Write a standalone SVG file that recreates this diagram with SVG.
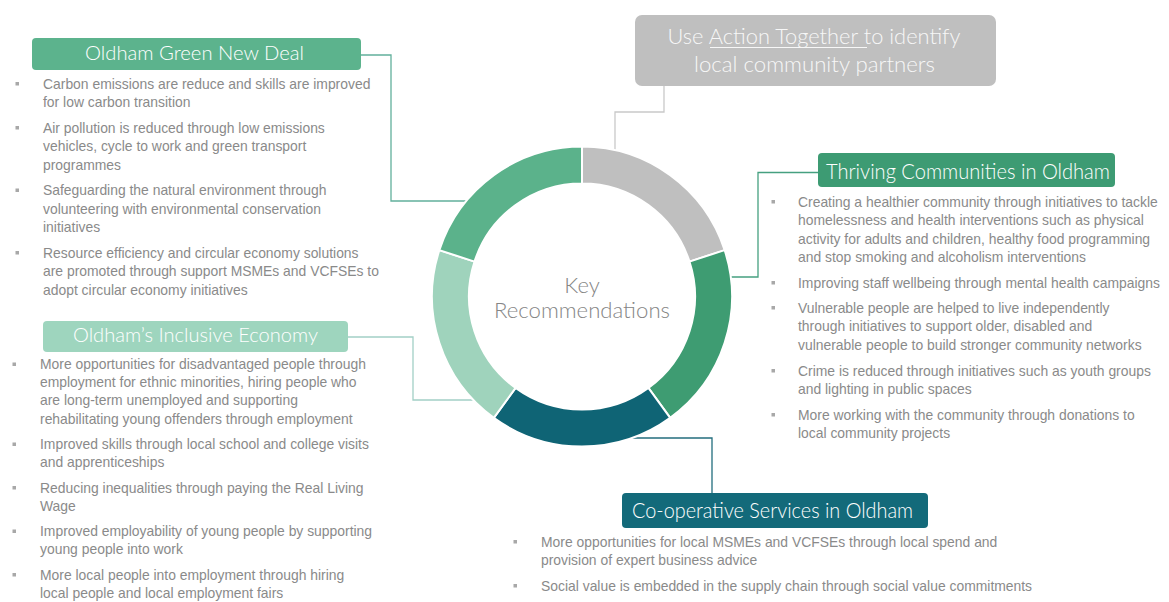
<svg xmlns="http://www.w3.org/2000/svg" width="1169" height="602" viewBox="0 0 1169 602">
<style>
.title{font-family:Lato,"Liberation Sans",sans-serif;font-weight:300;font-size:20.5px;fill:#ffffff;text-anchor:middle}
.body{font-family:"Liberation Sans",Arial,sans-serif;font-size:13.9px;fill:#8a8a8a}
.bul{fill:#a8a8a8}
.conn{fill:none;stroke-width:1.3}
.seg{stroke:#ffffff;stroke-width:2}
.center{font-family:Lato,"Liberation Sans",sans-serif;font-weight:300;font-size:22px;fill:#858585;text-anchor:middle}
</style>
<rect width="1169" height="602" fill="#ffffff"/>

<g id="connectors">
  <polyline class="conn" stroke="#62b09c" points="361,55 391,55 391,201 466.3,201"/>
  <polyline class="conn" stroke="#a2d0c6" points="348,337 413,337 413,400 473.4,400"/>
  <polyline class="conn" stroke="#c9c9c9" points="664,86 664,112 615,112 615,150.2"/>
  <polyline class="conn" stroke="#45a080" points="818,172.5 758,172.5 758,277 730.7,277"/>
  <polyline class="conn" stroke="#236e7e" points="631.8,438 712,438 712,493"/>
</g>

<g id="ring">
  <path class="seg" fill="#bfbfbf" d="M582,146.5 A150,150 0 0 1 724.66,250.15 L689.47,261.58 A113,113 0 0 0 582,183.5 Z"/>
  <path class="seg" fill="#3e9c72" d="M724.66,250.15 A150,150 0 0 1 670.17,417.85 L648.42,387.92 A113,113 0 0 0 689.47,261.58 Z"/>
  <path class="seg" fill="#0f6475" d="M670.17,417.85 A150,150 0 0 1 493.83,417.85 L515.58,387.92 A113,113 0 0 0 648.42,387.92 Z"/>
  <path class="seg" fill="#9fd3bc" d="M493.83,417.85 A150,150 0 0 1 439.34,250.15 L474.53,261.58 A113,113 0 0 0 515.58,387.92 Z"/>
  <path class="seg" fill="#5bb28b" d="M439.34,250.15 A150,150 0 0 1 582,146.5 L582,183.5 A113,113 0 0 0 474.53,261.58 Z"/>
  <text class="center" x="582" y="293">Key</text>
  <text class="center" x="582" y="318" textLength="176" lengthAdjust="spacingAndGlyphs">Recommendations</text>
</g>

<g id="node-action-together">
  <rect x="635" y="15" width="361" height="71" rx="7" fill="#bfbfbf"/>
  <text class="title" x="814" y="44" style="fill:#f7f7f7;font-size:22px" textLength="293" lengthAdjust="spacingAndGlyphs">Use Action Together to identify</text>
  <line x1="710" y1="47.5" x2="867" y2="47.5" stroke="#f7f7f7" stroke-width="1"/>
  <text class="title" x="814.5" y="72" style="fill:#f7f7f7;font-size:22px" textLength="241" lengthAdjust="spacingAndGlyphs">local community partners</text>
</g>

<g id="node-green-new-deal">
  <rect x="32" y="38" width="329" height="32" rx="4" fill="#5cb38d"/>
  <text class="title" x="194.5" y="60" textLength="219" lengthAdjust="spacingAndGlyphs">Oldham Green New Deal</text>
  <rect class="bul" x="15.5" y="82" width="3.5" height="3.5"/>
  <rect class="bul" x="15.5" y="126" width="3.5" height="3.5"/>
  <rect class="bul" x="15.5" y="188.5" width="3.5" height="3.5"/>
  <rect class="bul" x="15.5" y="251" width="3.5" height="3.5"/>
  <text class="body">
    <tspan x="43" y="89">Carbon emissions are reduce and skills are improved</tspan>
    <tspan x="43" y="107.4">for low carbon transition</tspan>
    <tspan x="43" y="133">Air pollution is reduced through low emissions</tspan>
    <tspan x="43" y="151.4">vehicles, cycle to work and green transport</tspan>
    <tspan x="43" y="169.8">programmes</tspan>
    <tspan x="43" y="195.4">Safeguarding the natural environment through</tspan>
    <tspan x="43" y="213.8">volunteering with environmental conservation</tspan>
    <tspan x="43" y="232.2">initiatives</tspan>
    <tspan x="43" y="258">Resource efficiency and circular economy solutions</tspan>
    <tspan x="43" y="276.4">are promoted through support MSMEs and VCFSEs to</tspan>
    <tspan x="43" y="294.8">adopt circular economy initiatives</tspan>
  </text>
</g>

<g id="node-inclusive-economy">
  <rect x="43" y="321" width="305" height="31" rx="4" fill="#9ed5be"/>
  <text class="title" x="195.5" y="342" textLength="245" lengthAdjust="spacingAndGlyphs">Oldham’s Inclusive Economy</text>
  <rect class="bul" x="12.5" y="362.5" width="3.5" height="3.5"/>
  <rect class="bul" x="12.5" y="442.5" width="3.5" height="3.5"/>
  <rect class="bul" x="12.5" y="486" width="3.5" height="3.5"/>
  <rect class="bul" x="12.5" y="529.5" width="3.5" height="3.5"/>
  <rect class="bul" x="12.5" y="573" width="3.5" height="3.5"/>
  <text class="body">
    <tspan x="40" y="369">More opportunities for disadvantaged people through</tspan>
    <tspan x="40" y="387.2">employment for ethnic minorities, hiring people who</tspan>
    <tspan x="40" y="405.4">are long-term unemployed and supporting</tspan>
    <tspan x="40" y="423.6">rehabilitating young offenders through employment</tspan>
    <tspan x="40" y="449">Improved skills through local school and college visits</tspan>
    <tspan x="40" y="467.2">and apprenticeships</tspan>
    <tspan x="40" y="492.5">Reducing inequalities through paying the Real Living</tspan>
    <tspan x="40" y="510.7">Wage</tspan>
    <tspan x="40" y="536">Improved employability of young people by supporting</tspan>
    <tspan x="40" y="554.2">young people into work</tspan>
    <tspan x="40" y="579.5">More local people into employment through hiring</tspan>
    <tspan x="40" y="597.5">local people and local employment fairs</tspan>
  </text>
</g>

<g id="node-thriving-communities">
  <rect x="818" y="153" width="297" height="34" rx="4" fill="#3d9b73"/>
  <text class="title" x="968" y="179" style="font-size:21px" textLength="284" lengthAdjust="spacingAndGlyphs">Thriving Communities in Oldham</text>
  <rect class="bul" x="771.5" y="200" width="3.5" height="3.5"/>
  <rect class="bul" x="771.5" y="281" width="3.5" height="3.5"/>
  <rect class="bul" x="771.5" y="306" width="3.5" height="3.5"/>
  <rect class="bul" x="771.5" y="369" width="3.5" height="3.5"/>
  <rect class="bul" x="771.5" y="413" width="3.5" height="3.5"/>
  <text class="body">
    <tspan x="798" y="207">Creating a healthier community through initiatives to tackle</tspan>
    <tspan x="798" y="225.4">homelessness and health interventions such as physical</tspan>
    <tspan x="798" y="243.8">activity for adults and children, healthy food programming</tspan>
    <tspan x="798" y="262.2">and stop smoking and alcoholism interventions</tspan>
    <tspan x="798" y="288">Improving staff wellbeing through mental health campaigns</tspan>
    <tspan x="798" y="313">Vulnerable people are helped to live independently</tspan>
    <tspan x="798" y="331.4">through initiatives to support older, disabled and</tspan>
    <tspan x="798" y="349.8">vulnerable people to build stronger community networks</tspan>
    <tspan x="798" y="375.6">Crime is reduced through initiatives such as youth groups</tspan>
    <tspan x="798" y="394">and lighting in public spaces</tspan>
    <tspan x="798" y="420">More working with the community through donations to</tspan>
    <tspan x="798" y="438.4">local community projects</tspan>
  </text>
</g>

<g id="node-cooperative-services">
  <rect x="622" y="493" width="306" height="35" rx="4" fill="#136a7a"/>
  <text class="title" x="772.5" y="518" style="font-size:21px" textLength="281" lengthAdjust="spacingAndGlyphs">Co-operative Services in Oldham</text>
  <rect class="bul" x="513.5" y="540" width="3.5" height="3.5"/>
  <rect class="bul" x="513.5" y="584" width="3.5" height="3.5"/>
  <text class="body">
    <tspan x="541" y="547">More opportunities for local MSMEs and VCFSEs through local spend and</tspan>
    <tspan x="541" y="565.4">provision of expert business advice</tspan>
    <tspan x="541" y="591">Social value is embedded in the supply chain through social value commitments</tspan>
  </text>
</g>
</svg>
